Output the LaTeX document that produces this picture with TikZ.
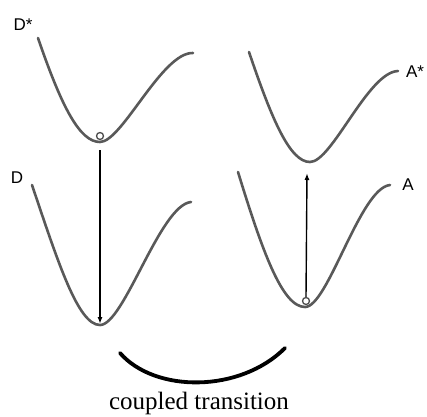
\documentclass[tikz,border=0pt]{standalone}
\usepackage{fontspec}
\setmainfont{Liberation Serif}
\setsansfont{Liberation Sans}
\usetikzlibrary{arrows.meta}
\begin{document}
\begin{tikzpicture}[x=1pt,y=-1pt,
  well/.style={draw=black!65,line width=2.6pt,line cap=round},
  trans/.style={draw=black,line width=1.4pt,-{Latex[length=7pt,width=5pt]}},
  dot/.style={circle,draw=black!70,line width=1.3pt,inner sep=0pt,minimum size=7pt,fill=white},
  lab/.style={font=\sffamily\fontsize{17}{17}\selectfont,inner sep=0pt},
  captext/.style={font=\fontsize{25}{27}\selectfont,inner sep=0pt}]
\useasboundingbox (0,0) rectangle (427,416);
% wells
\draw[well] (38,38) .. controls (62,108) and (80,142) .. (100,142) .. controls (122,142) and (162,52) .. (193,53);
\draw[well] (249,52) .. controls (272,120) and (290,162) .. (310,162) .. controls (332,162) and (368,72) .. (398,71);
\draw[well] (32,185) .. controls (58,262) and (78,325) .. (100,325) .. controls (124,325) and (160,205) .. (191,202);
\draw[well] (238,172) .. controls (262,250) and (282,307) .. (305,307) .. controls (328,307) and (360,188) .. (390,185);
% labels
\node[lab] (Ds) at (23,25) {D*};
\node[lab] (D) at (17,178) {D};
\node[lab] (As) at (415,72) {A*};
\node[lab] (A) at (408,185) {A};
% markers
\node[dot] (c1) at (100,136) {};
\node[dot] (c2) at (306,301) {};
\coordinate (Dstart) at (100,150);
\coordinate (Dend) at (100,324);
\coordinate (Aend) at (307,173);
\draw[trans] (Dstart) -- (Dend);
\draw[trans] (c2.north) -- (Aend);
% coupling arc
\coordinate (L) at (120,353);
\coordinate (R) at (285,348);
\draw[line width=3.8pt,line cap=round] (L) .. controls (155,393) and (240,393) .. (R);
\node[captext] (ct) at (199,403) {coupled transition};
\end{tikzpicture}
\end{document}
